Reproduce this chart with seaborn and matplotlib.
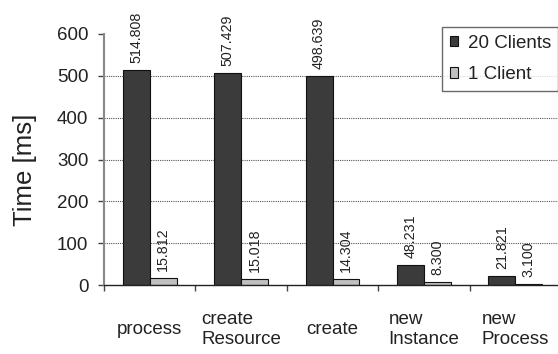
import matplotlib
matplotlib.use("Agg")
import matplotlib.pyplot as plt
from matplotlib.ticker import FixedLocator
import seaborn as sns
import pandas as pd

# Response times per operation
categories = ["process", "create\nResource", "create", "new\nInstance", "new\nProcess"]
clients_20 = [514.808, 507.429, 498.639, 48.231, 21.821]
clients_1 = [15.812, 15.018, 14.304, 8.300, 3.100]
series_names = ["20 Clients", "1 Client"]
y_ticks = [0, 100, 200, 300, 400, 500, 600]

df = pd.DataFrame({
    "operation": categories * 2,
    "time": clients_20 + clients_1,
    "series": [series_names[0]] * len(categories) + [series_names[1]] * len(categories),
})

sns.set_theme(style="white")
plt.rcParams["font.family"] = ["Liberation Sans", "DejaVu Sans"]

fig = plt.figure(figsize=(5.58, 3.54), dpi=100)
ax = fig.add_axes([104 / 558, 1 - 285 / 354, 457 / 558, 251 / 354])

sns.barplot(
    data=df, x="operation", y="time", hue="series", order=categories,
    hue_order=series_names, palette=["#3b3b3b", "#c0c0c0"],
    width=0.59, gap=0, edgecolor="#111111", linewidth=0.8,
    saturation=1, ax=ax, legend=True, errorbar=None,
)

for cont in ax.containers:
    ax.bar_label(cont, fmt="%.3f", rotation=90, padding=5,
                 fontsize=10.3, color="#222222")

ax.set_ylim(0, 600)
ax.set_xlim(-0.5, len(categories) - 0.5)
ax.set_yticks(y_ticks)
ax.grid(False)
for y in y_ticks[1:-1]:
    ax.axhline(y, color="#555555", linestyle=(0, (1, 1)), linewidth=0.8, zorder=0)

for side in ["top", "right"]:
    ax.spines[side].set_visible(False)
ax.spines["left"].set_color("#888888")
ax.spines["left"].set_linewidth(1.5)
ax.spines["bottom"].set_color("#222222")
ax.spines["bottom"].set_linewidth(1.0)

ax.tick_params(axis="y", which="major", left=True, length=4.3, width=1,
               color="#444444", pad=7, labelsize=13.5, labelcolor="#222222")
ax.tick_params(axis="x", which="major", bottom=False, length=0, pad=32,
               labelsize=13.5, labelcolor="#222222")
ax.xaxis.set_minor_locator(FixedLocator([i - 0.5 for i in range(len(categories) + 1)]))
ax.tick_params(axis="x", which="minor", bottom=True, length=4.3, width=1,
               color="#444444")
for lbl in ax.get_xticklabels():
    lbl.set_verticalalignment("center")
    lbl.set_multialignment("left")
    lbl.set_linespacing(1.25)

ax.set_xlabel("")
ax.set_ylabel("Time [ms]", fontsize=18.5, color="#222222")
ax.yaxis.set_label_coords(-0.147, 0.458)

handles, labels = ax.get_legend_handles_labels()
leg = ax.legend(
    handles, labels, loc="upper left",
    bbox_to_anchor=(442 / 558, 1 - 27 / 354), bbox_transform=fig.transFigure,
    borderaxespad=0, fontsize=13.5, frameon=True, fancybox=False,
    edgecolor="#444444", handlelength=0.47, handleheight=0.47,
    handletextpad=0.5, labelspacing=0.78, borderpad=0.4,
)
leg.get_frame().set_linewidth(1.0)
for text in leg.get_texts():
    text.set_color("#222222")

fig.savefig("out.png", dpi=100)
